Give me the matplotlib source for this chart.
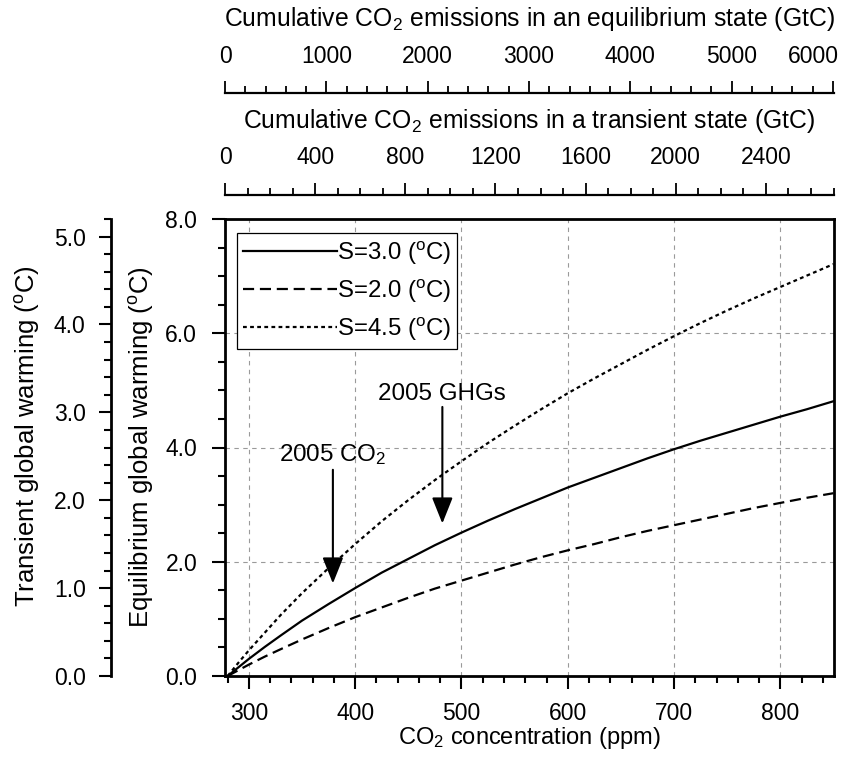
import numpy as np
import matplotlib
matplotlib.use("Agg")
import matplotlib.pyplot as plt
from matplotlib.ticker import MultipleLocator, FormatStrFormatter, FuncFormatter

plt.rcParams['font.family'] = ['Liberation Sans', 'DejaVu Sans']
plt.rcParams['mathtext.fontset'] = 'custom'
plt.rcParams['mathtext.rm'] = 'Liberation Sans'
plt.rcParams['mathtext.it'] = 'Liberation Sans:italic'
plt.rcParams['mathtext.bf'] = 'Liberation Sans:bold'
plt.rcParams['font.size'] = 16.5

# CO2 concentration (ppm) and equilibrium warming
co2 = [280, 290, 300, 315, 330, 350, 375, 400, 425, 450, 475, 500, 525, 550, 575, 600,
       625, 650, 675, 700, 725, 750, 775, 800, 825, 850]
warm_s30 = [0.0, 0.15, 0.30, 0.51, 0.71, 0.97, 1.26, 1.54, 1.81, 2.05, 2.29, 2.51, 2.72,
            2.92, 3.11, 3.30, 3.47, 3.64, 3.81, 3.97, 4.12, 4.26, 4.40, 4.54, 4.67, 4.81]
warm_s20 = [0.0, 0.10, 0.20, 0.34, 0.47, 0.64, 0.84, 1.03, 1.20, 1.37, 1.53, 1.67, 1.81,
            1.95, 2.08, 2.20, 2.31, 2.43, 2.54, 2.64, 2.74, 2.84, 2.94, 3.03, 3.12, 3.20]
warm_s45 = [0.0, 0.23, 0.45, 0.76, 1.07, 1.45, 1.89, 2.31, 2.71, 3.08, 3.43, 3.76, 4.08,
            4.38, 4.67, 4.95, 5.21, 5.46, 5.71, 5.95, 6.18, 6.40, 6.61, 6.81, 7.01, 7.21]
labels = [r'S=3.0 ($^{\rm o}$C)', r'S=2.0 ($^{\rm o}$C)', r'S=4.5 ($^{\rm o}$C)']

# arrows: x (ppm), tail y, tip y, text y
arrow_x = [379, 482]
arrow_tail = [3.61, 4.71]
arrow_tip = [1.62, 2.67]
arrow_text = [r'2005 CO$_2$', '2005 GHGs']
arrow_text_y = [3.88, 4.94]

W_PX, H_PX = 855, 760
fig = plt.figure(figsize=(8.55, 7.6), dpi=100)
left, right, bottom, top = 225, 833.5, 676, 219
ax = fig.add_axes([left / W_PX, 1 - bottom / H_PX, (right - left) / W_PX, (bottom - top) / H_PX])

ax.plot(co2, warm_s30, color='k', lw=1.6, label=labels[0])
ax.plot(co2, warm_s20, color='k', lw=1.6, linestyle=(0, (5, 2.6)), label=labels[1])
ax.plot(co2, warm_s45, color='k', lw=1.6, linestyle=(0, (1.7, 1.5)), label=labels[2])

ax.set_xlim(277.5, 850)
ax.set_ylim(0, 8)
ax.xaxis.set_major_locator(MultipleLocator(100))
ax.xaxis.set_minor_locator(MultipleLocator(20))
ax.yaxis.set_major_locator(MultipleLocator(2))
ax.yaxis.set_minor_locator(MultipleLocator(0.5))
ax.yaxis.set_major_formatter(FormatStrFormatter('%.1f'))
ax.grid(True, which='major', color='#9a9a9a', linestyle=(0, (4, 4)), lw=0.8)
ax.tick_params(which='both', direction='out', top=True, right=True, width=1.5)
ax.tick_params(which='major', length=9.5)
ax.tick_params(which='minor', length=5)
ax.tick_params(axis='y', pad=10.5)
ax.tick_params(axis='x', pad=9.5)
for s in ax.spines.values():
    s.set_linewidth(2)

leg = ax.legend(loc='upper left', bbox_to_anchor=(237.3 / W_PX, 1 - 233.3 / H_PX),
                bbox_transform=fig.transFigure, borderaxespad=0, handlelength=3.9,
                handletextpad=0.0, borderpad=0.25, labelspacing=0.45, fancybox=False,
                framealpha=1, edgecolor='k', fontsize=17.3)
leg.get_frame().set_linewidth(0.9)

for x, t0, t1, txt, ty in zip(arrow_x, arrow_tail, arrow_tip, arrow_text, arrow_text_y):
    ax.annotate('', xy=(x, t1), xytext=(x, t0),
                arrowprops=dict(arrowstyle='-|>,head_length=1.0,head_width=0.4',
                                color='k', lw=1.5, shrinkA=0, shrinkB=0,
                                mutation_scale=16))
    ax.text(x, ty, txt, ha='center', va='center', fontsize=17.4)

# transient warming axis on the far left
tax = ax.twinx()
tax.set_ylim(0, 5.2)
tax.yaxis.tick_left()
for k in ['right', 'top', 'bottom']:
    tax.spines[k].set_visible(False)
tax.spines['left'].set_visible(True)
tax.spines['left'].set_position(('outward', 114.3 * 72 / 100))
tax.spines['left'].set_linewidth(2)
tax.yaxis.set_major_locator(MultipleLocator(1))
tax.yaxis.set_minor_locator(MultipleLocator(0.2))
tax.yaxis.set_major_formatter(FormatStrFormatter('%.1f'))
tax.tick_params(which='both', direction='out', width=1.5, pad=9)
tax.tick_params(which='major', length=9)
tax.tick_params(which='minor', length=5)

# cumulative emissions axes on top
TICK_MAJ, TICK_PAD = 8.5, 9.5

def top_axis(offset_px, xmax, major, minor, skip=None):
    a = ax.twiny()
    a.set_xlim(0, xmax)
    for k in ['right', 'left', 'bottom']:
        a.spines[k].set_visible(False)
    a.spines['top'].set_position(('outward', offset_px * 72 / 100))
    a.spines['top'].set_linewidth(1.6)
    a.xaxis.set_major_locator(MultipleLocator(major))
    a.xaxis.set_minor_locator(MultipleLocator(minor))
    a.xaxis.set_major_formatter(FuncFormatter(lambda v, p: '' if v == skip else '%d' % v))
    a.tick_params(which='both', direction='out', width=1.3, pad=TICK_PAD)
    a.tick_params(which='major', length=TICK_MAJ)
    a.tick_params(which='minor', length=5)
    return a

top_axis(top - 194.5, 2700, 400, 100)
eq_off = top - 93
eq_ax = top_axis(eq_off, 6005, 1000, 200, skip=6000)
# last label is pulled inside the figure edge
eq_ax.annotate('6000', xy=(6000, 1), xycoords=('data', 'axes fraction'),
               xytext=(4, eq_off * 72 / 100 + TICK_MAJ + TICK_PAD), textcoords='offset points',
               ha='right', va='bottom')

cx = (left + right) / 2 / W_PX
fig.text(cx, 1 - 26.3 / H_PX, r'Cumulative CO$_2$ emissions in an equilibrium state (GtC)',
         ha='center', va='baseline', fontsize=17.8)
fig.text(cx, 1 - 128.3 / H_PX, r'Cumulative CO$_2$ emissions in a transient state (GtC)',
         ha='center', va='baseline', fontsize=17.8)
fig.text(cx, 1 - 738 / H_PX, r'CO$_2$ concentration (ppm)', ha='center', va='center',
         fontsize=17)
fig.text(141 / W_PX, 1 - 447.5 / H_PX, r'Equilibrium global warming ($^{\rm o}$C)',
         rotation=90, ha='center', va='center', fontsize=18.5)
fig.text(28 / W_PX, 1 - 436 / H_PX, r'Transient global warming ($^{\rm o}$C)',
         rotation=90, ha='center', va='center', fontsize=18.5)

fig.savefig('out.png', dpi=100)
